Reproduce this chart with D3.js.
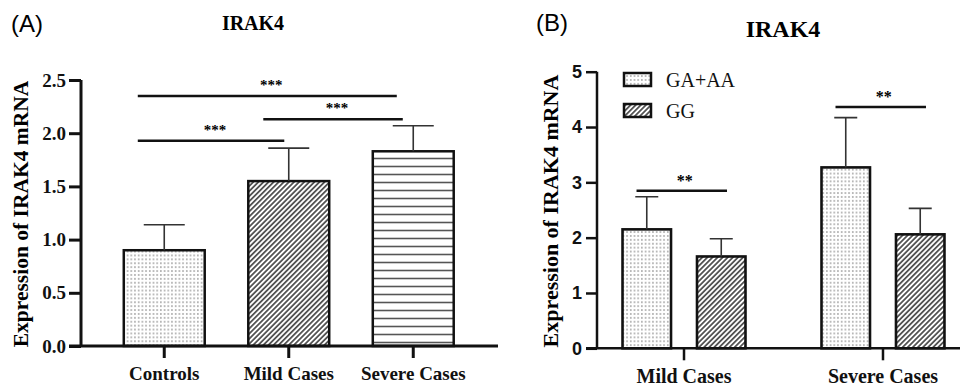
<!DOCTYPE html>
<html>
<head>
<meta charset="utf-8">
<script src="https://cdn.jsdelivr.net/npm/d3@7"></script>
<style>
  body { margin: 0; background: #fff; }
  svg { display: block; }
  .serif { font-family: "Liberation Serif", "Times New Roman", serif; }
  .sans { font-family: "Liberation Sans", Arial, sans-serif; }
</style>
</head>
<body>
<script>
// panel A data
const groupsA = ["Controls", "Mild Cases", "Severe Cases"];
const meanA = [0.9, 1.55, 1.83];
const errA = [0.24, 0.31, 0.24];
const ticksA = [0, 0.5, 1.0, 1.5, 2.0, 2.5];
// [from, to, height, label]
const sigA = [
  ["Controls", "Severe Cases", 2.35, "***"],
  ["Mild Cases", "Severe Cases", 2.13, "***"],
  ["Controls", "Mild Cases", 1.93, "***"]
];

// panel B data
const groupsB = ["Mild Cases", "Severe Cases"];
const genotypes = ["GA+AA", "GG"];
const meanB_GA = [2.15, 3.27];
const meanB_GG = [1.66, 2.06];
const errB_GA = [0.59, 0.9];
const errB_GG = [0.32, 0.47];
const ticksB = [0, 1, 2, 3, 4, 5];
const sigB = [2.85, 4.36];

let width = 960, height = 388;

let svg = d3.select("body").append("svg")
    .attr("width", width)
    .attr("height", height);

// patterns
let defs = svg.append("defs");
let dots = defs.append("pattern")
    .attr("id", "dots")
    .attr("patternUnits", "userSpaceOnUse")
    .attr("width", 3.7).attr("height", 3.9);
dots.append("circle").attr("cx", 1.8).attr("cy", 1.9).attr("r", 0.75).attr("fill", "#666");

let hatch = defs.append("pattern")
    .attr("id", "hatch")
    .attr("patternUnits", "userSpaceOnUse")
    .attr("width", 3.6).attr("height", 10)
    .attr("patternTransform", "rotate(45)");
hatch.append("line")
    .attr("x1", 1.8).attr("x2", 1.8).attr("y1", 0).attr("y2", 10)
    .attr("stroke", "#222").attr("stroke-width", 1.4);

let hlines = defs.append("pattern")
    .attr("id", "hlines")
    .attr("patternUnits", "userSpaceOnUse")
    .attr("width", 10).attr("height", 8);
hlines.append("line")
    .attr("x1", 0).attr("x2", 10).attr("y1", 6.5).attr("y2", 6.5)
    .attr("stroke", "#555").attr("stroke-width", 1.6);

const fillA = ["url(#dots)", "url(#hatch)", "url(#hlines)"];
const fillB = {"GA+AA": "url(#dots)", "GG": "url(#hatch)"};

// ---------- panel A ----------
let yA = d3.scaleLinear().domain([0, 2.5]).range([346, 80]);
let xA = d3.scaleBand().domain(groupsA).range([102, 475.5]).paddingInner(0.35).paddingOuter(0.175);

let gA = svg.append("g");

gA.append("text").attr("class", "sans")
    .attr("x", 11).attr("y", 32)
    .attr("font-size", 24)
    .text("(A)");

gA.append("text").attr("class", "serif")
    .attr("x", 253).attr("y", 30)
    .attr("text-anchor", "middle")
    .attr("font-size", 20).attr("font-weight", "bold")
    .text("IRAK4");

gA.append("text").attr("class", "serif")
    .attr("transform", "translate(28," + ((yA(0) + yA(2.5)) / 2 + 1) + ") rotate(-90)")
    .attr("text-anchor", "middle")
    .attr("font-size", 21.5).attr("font-weight", "bold")
    .text("Expression of IRAK4 mRNA");

// bars
gA.selectAll("rect.bar")
    .data(groupsA)
    .join("rect")
    .attr("class", "bar")
    .attr("x", d => xA(d))
    .attr("y", (d, i) => yA(meanA[i]))
    .attr("width", xA.bandwidth())
    .attr("height", (d, i) => yA(0) - yA(meanA[i]))
    .attr("fill", (d, i) => fillA[i])
    .attr("stroke", "#111")
    .attr("stroke-width", 2.5);

// error bars (upper only)
gA.selectAll("path.err")
    .data(groupsA)
    .join("path")
    .attr("class", "err")
    .attr("d", (d, i) => {
        let cx = xA(d) + xA.bandwidth() / 2;
        let top = yA(meanA[i] + errA[i]);
        return `M${cx},${yA(meanA[i])}V${top}M${cx - 20.5},${top}H${cx + 20.5}`;
    })
    .attr("fill", "none")
    .attr("stroke", "#333")
    .attr("stroke-width", 1.6);

// axes
let axA = gA.append("g").attr("transform", "translate(81,0)")
    .call(d3.axisLeft(yA).tickValues(ticksA).tickFormat(d3.format(".1f")).tickSize(12).tickPadding(3));
axA.select(".domain").attr("d", `M0,${yA(2.5)}V${yA(0)}`);
axA.selectAll("line, path").attr("stroke", "#111").attr("stroke-width", 3);
axA.selectAll("text").attr("class", "serif").attr("font-size", 19).attr("font-weight", "bold").attr("fill", "#111");

let axAx = gA.append("g").attr("transform", `translate(0,${yA(0)})`)
    .call(d3.axisBottom(xA).tickSize(12).tickPadding(9));
axAx.select(".domain").attr("d", "M69,0H498");
axAx.selectAll("line, path").attr("stroke", "#111").attr("stroke-width", 3);
axAx.selectAll("text").attr("class", "serif").attr("font-size", 19).attr("font-weight", "bold").attr("fill", "#111");

// significance
sigA.forEach(s => {
    let x1 = xA(s[0]) + 14, x2 = xA(s[1]) + xA.bandwidth() - 8;
    if (s[0] === "Mild Cases") x1 = xA(s[0]) + 15, x2 = xA(s[1]) + 30;
    if (s[1] === "Mild Cases") x2 = xA(s[1]) + 36;
    if (s[0] === "Controls" && s[1] === "Severe Cases") x2 = xA(s[1]) + 24;
    gA.append("line")
        .attr("x1", x1).attr("x2", x2)
        .attr("y1", yA(s[2])).attr("y2", yA(s[2]))
        .attr("stroke", "#111").attr("stroke-width", 2.5);
    gA.append("text").attr("class", "serif")
        .attr("x", (x1 + x2) / 2 + 4).attr("y", yA(s[2]) - 6)
        .attr("text-anchor", "middle")
        .attr("font-size", 15).attr("font-weight", "bold")
        .text(s[3]);
});

// ---------- panel B ----------
let yB = d3.scaleLinear().domain([0, 5]).range([348.3, 71.7]);
let xB0 = d3.scaleBand().domain(groupsB).range([584.5, 982.5]).paddingInner(0.251).paddingOuter(0.1256);
let xB1 = d3.scaleBand().domain(genotypes).range([0, xB0.bandwidth()]).paddingInner(0.349).paddingOuter(0.175);

let gB = svg.append("g");

gB.append("text").attr("class", "sans")
    .attr("x", 536).attr("y", 31)
    .attr("font-size", 24)
    .text("(B)");

gB.append("text").attr("class", "serif")
    .attr("x", 783).attr("y", 37)
    .attr("text-anchor", "middle")
    .attr("font-size", 24).attr("font-weight", "bold")
    .text("IRAK4");

gB.append("text").attr("class", "serif")
    .attr("transform", "translate(558," + ((yB(0) + yB(5)) / 2 + 1) + ") rotate(-90)")
    .attr("text-anchor", "middle")
    .attr("font-size", 22).attr("font-weight", "bold")
    .text("Expression of IRAK4 mRNA");

let rowsB = [];
groupsB.forEach((g, i) => {
    rowsB.push({group: g, geno: "GA+AA", mean: meanB_GA[i], err: errB_GA[i]});
    rowsB.push({group: g, geno: "GG", mean: meanB_GG[i], err: errB_GG[i]});
});

gB.selectAll("rect.bar")
    .data(rowsB)
    .join("rect")
    .attr("class", "bar")
    .attr("x", d => xB0(d.group) + xB1(d.geno))
    .attr("y", d => yB(d.mean))
    .attr("width", xB1.bandwidth())
    .attr("height", d => yB(0) - yB(d.mean))
    .attr("fill", d => fillB[d.geno])
    .attr("stroke", "#111")
    .attr("stroke-width", 2.6);

gB.selectAll("path.err")
    .data(rowsB)
    .join("path")
    .attr("class", "err")
    .attr("d", d => {
        let cx = xB0(d.group) + xB1(d.geno) + xB1.bandwidth() / 2;
        let top = yB(d.mean + d.err);
        return `M${cx},${yB(d.mean)}V${top}M${cx - 11.5},${top}H${cx + 11.5}`;
    })
    .attr("fill", "none")
    .attr("stroke", "#333")
    .attr("stroke-width", 1.6);

let axB = gB.append("g").attr("transform", "translate(597,0)")
    .call(d3.axisLeft(yB).tickValues(ticksB).tickFormat(d3.format("d")).tickSize(11).tickPadding(4));
axB.select(".domain").attr("d", `M0,${yB(5)}V${yB(0)}`);
axB.selectAll("line, path").attr("stroke", "#111").attr("stroke-width", 2.5);
axB.selectAll("text").attr("class", "sans").attr("font-size", 18).attr("font-weight", "bold").attr("fill", "#111");

let axBx = gB.append("g").attr("transform", `translate(0,${yB(0)})`)
    .call(d3.axisBottom(xB0).tickSize(12).tickPadding(9));
axBx.select(".domain").attr("d", "M586,0H960");
axBx.selectAll("line, path").attr("stroke", "#111").attr("stroke-width", 2.5);
axBx.selectAll("text").attr("class", "serif").attr("font-size", 20).attr("font-weight", "bold").attr("fill", "#111");

// significance within groups
groupsB.forEach((g, i) => {
    let x1 = xB0(g) + xB1("GA+AA") + 14, x2 = xB0(g) + xB1("GG") + 30;
    gB.append("line")
        .attr("x1", x1).attr("x2", x2)
        .attr("y1", yB(sigB[i])).attr("y2", yB(sigB[i]))
        .attr("stroke", "#111").attr("stroke-width", 2.5);
    gB.append("text").attr("class", "serif")
        .attr("x", (x1 + x2) / 2 + 3).attr("y", yB(sigB[i]) - 5)
        .attr("text-anchor", "middle")
        .attr("font-size", 16).attr("font-weight", "bold")
        .text("**");
});

// legend
let leg = gB.append("g");
genotypes.forEach((gt, i) => {
    let ly = 79.5 + i * 31;
    leg.append("rect")
        .attr("x", 624).attr("y", ly - 6.5)
        .attr("width", 27).attr("height", 13)
        .attr("fill", fillB[gt])
        .attr("stroke", "#111").attr("stroke-width", 2.5);
    leg.append("text").attr("class", "serif")
        .attr("x", 666).attr("y", ly + 7)
        .attr("font-size", 20).attr("fill", "#111")
        .text(gt);
});
</script>
</body>
</html>
